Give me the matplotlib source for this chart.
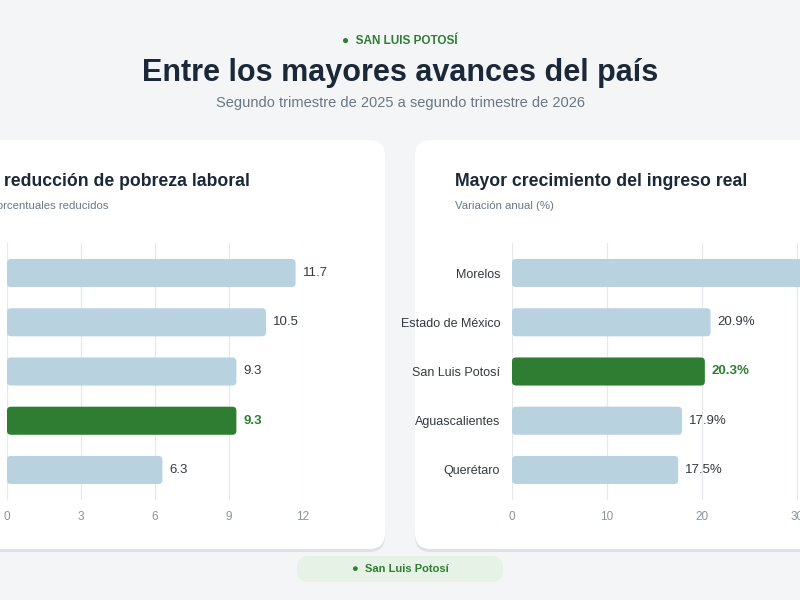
import matplotlib.pyplot as plt
from matplotlib.patches import FancyBboxPatch

plt.rcParams['font.family'] = ['Liberation Sans', 'DejaVu Sans']

# data
pobreza_states = ['Chiapas', 'Guerrero', 'Oaxaca', 'San Luis Potosí', 'Tlaxcala']
pobreza_values = [11.7, 10.5, 9.3, 9.3, 6.3]
pobreza_ticks = [0, 3, 6, 9, 12]

ingreso_states = ['Morelos', 'Estado de México', 'San Luis Potosí', 'Aguascalientes', 'Querétaro']
ingreso_values = [32.4, 20.9, 20.3, 17.9, 17.5]
ingreso_ticks = [0, 10, 20, 30, 40]

highlight = 'San Luis Potosí'

BG = '#f3f5f7'
CARD = '#ffffff'
BAR = '#b9d2e0'
GREEN = '#2e7d32'
DARK = '#1b2838'
GRAY = '#6b7785'
W, H = 800, 600

fig = plt.figure(figsize=(8, 6), dpi=100)
fig.patch.set_facecolor(BG)

# full-figure axes in pixel units for the cards and headings
bg = fig.add_axes([0, 0, 1, 1])
bg.set_xlim(0, W)
bg.set_ylim(H, 0)
bg.axis('off')
bg.set_facecolor(BG)


def card(x0, x1, y0, y1):
    shadow = FancyBboxPatch((x0, y0 + 3), x1 - x0, y1 - y0,
                            boxstyle='round,pad=0,rounding_size=16',
                            fc='#dde1e6', ec='none', zorder=1)
    body = FancyBboxPatch((x0, y0), x1 - x0, y1 - y0,
                          boxstyle='round,pad=0,rounding_size=16',
                          fc=CARD, ec='none', zorder=2)
    bg.add_patch(shadow)
    bg.add_patch(body)


card(-300, 385, 140, 549)
card(415, 1100, 140, 549)

# header
bg.text(400, 41, '●  SAN LUIS POTOSÍ', ha='center', va='center', fontsize=8.5,
        fontweight='bold', color=GREEN)
bg.text(400, 73, 'Entre los mayores avances del país', ha='center', va='center',
        fontsize=22, fontweight='bold', color=DARK)
bg.text(400, 103, 'Segundo trimestre de 2025 a segundo trimestre de 2026', ha='center',
        va='center', fontsize=10.5, color=GRAY)

# panel titles
bg.text(250, 181, 'Mayor reducción de pobreza laboral', ha='right', va='center',
        fontsize=12.7, fontweight='bold', color=DARK, zorder=3)
bg.text(108, 206, 'Puntos porcentuales reducidos', ha='right', va='center',
        fontsize=8.2, color=GRAY, zorder=3)
bg.text(455, 181, 'Mayor crecimiento del ingreso real', ha='left', va='center',
        fontsize=12.7, fontweight='bold', color=DARK, zorder=3)
bg.text(455, 206, 'Variación anual (%)', ha='left', va='center',
        fontsize=8.2, color=GRAY, zorder=3)

# bottom pill
pill = FancyBboxPatch((297, 556), 206, 26, boxstyle='round,pad=0,rounding_size=12',
                      fc='#e5f2e5', ec='none', zorder=2)
bg.add_patch(pill)
bg.text(400, 569, '●  San Luis Potosí', ha='center', va='center', fontsize=8,
        fontweight='bold', color=GREEN, zorder=3)


def bar_panel(px0, px_per_unit, xmax, states, values, ticks, fmt):
    top, bottom = 243, 500
    ax = fig.add_axes([px0 / W, 1 - bottom / H, xmax * px_per_unit / W, (bottom - top) / H])
    ax.set_facecolor('none')
    ax.set_xlim(0, xmax)
    ax.set_ylim(len(states) - 1 + 0.61, -0.61)
    for s in ax.spines.values():
        s.set_visible(False)
    ax.set_xticks(ticks)
    ax.set_xticklabels([str(t) for t in ticks])
    ax.tick_params(axis='x', length=0, labelsize=8.5, labelcolor='#8a939c', pad=8)
    ax.tick_params(axis='y', length=0, labelsize=9, labelcolor='#333a40', pad=8.5)
    ax.grid(axis='x', color='#e6e8eb', linewidth=0.9)
    ax.set_axisbelow(True)
    ax.set_yticks(range(len(states)))
    ax.set_yticklabels(states)

    # rounded bars
    ux = 1 / px_per_unit
    uy = (len(states) - 1 + 1.22) / (bottom - top)
    bar_h = 0.57
    r = 4 * ux
    for i, (name, v) in enumerate(zip(states, values)):
        color = GREEN if name == highlight else BAR
        p = FancyBboxPatch((0, i - bar_h / 2), v, bar_h,
                           boxstyle=f'round,pad=0,rounding_size={r}',
                           mutation_aspect=uy / ux, fc=color, ec='none', zorder=2)
        ax.add_patch(p)
        ax.text(v + 7 * ux, i, fmt.format(v), va='center', ha='left',
                fontsize=9.5, color=GREEN if name == highlight else '#333a40',
                fontweight='bold' if name == highlight else 'normal', clip_on=False)
    return ax


bar_panel(7, 296 / 12, 12, pobreza_states, pobreza_values, pobreza_ticks, '{:.1f}')
bar_panel(512, 9.5, 40, ingreso_states, ingreso_values, ingreso_ticks, '{:.1f}%')

fig.savefig('out.png', dpi=100, facecolor=BG)
